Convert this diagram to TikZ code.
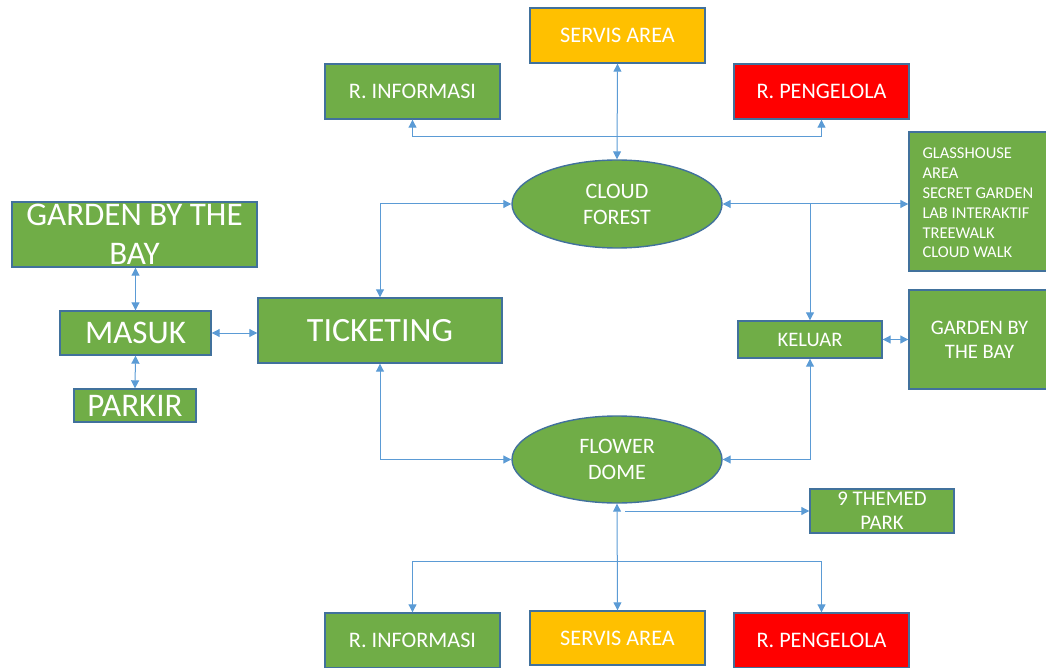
\documentclass[tikz,border=0pt]{standalone}
\usepackage{fontspec}
\setmainfont{Carlito}
\usetikzlibrary{arrows.meta,shapes.geometric}
\definecolor{gfill}{HTML}{70AD47}
\definecolor{bord}{HTML}{41719C}
\definecolor{ofill}{HTML}{FFC000}
\definecolor{rfill}{HTML}{FF0000}
\definecolor{lnk}{HTML}{5B9BD5}
\tikzset{
  box/.style={draw=bord, line width=1.4pt, fill=gfill, text=white, inner sep=0pt, align=center, execute at begin node={\spaceskip=0pt\xspaceskip=0pt\relax}},
  oval/.style={ellipse, draw=bord, line width=1.4pt, fill=gfill, text=white, inner sep=0pt, align=center, font=\fontsize{22}{26}\selectfont},
  link/.style={draw=lnk, line width=1pt, -{Triangle[width=8pt,length=8pt]}},
  dlink/.style={draw=lnk, line width=1pt, {Triangle[width=8pt,length=8pt]}-{Triangle[width=8pt,length=8pt]}},
  plain/.style={draw=lnk, line width=1pt},
  sm/.style={font=\fontsize{22.2}{24}\selectfont},
}
\begin{document}
\begin{tikzpicture}[x=1pt,y=-1pt]
\useasboundingbox (0,0) rectangle (1046,668);
% top
\node[box, fill=ofill, sm, minimum width=175, minimum height=55] (sa1) at (617.5,35.5) {SERVIS AREA};
\node[box, sm, minimum width=175, minimum height=55] (ri1) at (412.5,91.5) {R. INFORMASI};
\node[box, fill=rfill, sm, minimum width=175, minimum height=55] (rp1) at (821.5,91.5) {R. PENGELOLA};
\node[oval, minimum width=210, minimum height=88] (cf) at (617,204) {CLOUD\\FOREST};
% left
\node[box, font=\fontsize{33}{39}\selectfont, minimum width=245, minimum height=65] (gb1) at (134.5,234.5) {GARDEN BY THE\\BAY};
\node[box, font=\fontsize{33}{36}\selectfont, minimum width=151, minimum height=44] (ma) at (135.5,333) {MASUK};
\node[box, font=\fontsize{33}{34}\selectfont, minimum width=122, minimum height=33] (pk) at (135,405.5) {PARKIR};
\node[box, font=\fontsize{34}{38}\selectfont, minimum width=244, minimum height=65] (tk) at (380,330.5) {TICKETING};
% right
\node[box, font=\fontsize{16.5}{19.8}\selectfont, minimum width=141, minimum height=139] (gh) at (979.5,201.5) {\raisebox{-3pt}[\height][\depth]{\makebox[114pt][l]{\begin{tabular}{@{}l@{}}GLASSHOUSE\\AREA\\SECRET GARDEN\\LAB INTERAKTIF\\TREEWALK\\CLOUD WALK\end{tabular}}}};
\node[box, font=\fontsize{20.6}{22}\selectfont, minimum width=144, minimum height=37] (kl) at (810,339.5) {KELUAR};
\node[box, font=\fontsize{20.6}{24}\selectfont, minimum width=141, minimum height=99] (gb2) at (979.5,339.5) {GARDEN BY\\THE BAY};
\node[oval, minimum width=210, minimum height=87] (fd) at (617,459.5) {FLOWER\\DOME};
\node[box, font=\fontsize{20.8}{24}\selectfont, minimum width=144, minimum height=44] (tp) at (882,511) {9 THEMED\\PARK};
% bottom
\node[box, sm, minimum width=175, minimum height=55] (ri2) at (412.5,640.5) {R. INFORMASI};
\node[box, fill=ofill, sm, minimum width=175, minimum height=54] (sa2) at (617.5,638) {SERVIS AREA};
\node[box, fill=rfill, sm, minimum width=175, minimum height=55] (rp2) at (821.5,640.5) {R. PENGELOLA};
% coordinates
\coordinate (t1) at (617,137);
\coordinate (t2) at (617,561);
\coordinate (cfr) at (810,204);
\coordinate (fdb) at (625,511);
% connectors
\draw[dlink] (sa1.south) -- (cf.north);
\draw[plain] (t1) -- (ri1.south |- t1);
\draw[plain] (t1) -- (rp1.south |- t1);
\draw[link] (ri1.south |- t1) -- (ri1.south);
\draw[link] (rp1.south |- t1) -- (rp1.south);
\draw[dlink] (tk.north) |- (cf.west);
\draw[dlink] (tk.south) |- (fd.west);
\draw[dlink] (cf.east) -- (gh.west |- cf.east);
\draw[link] (cfr) -- (kl.north);
\draw[dlink] (kl.south) |- (fd.east);
\draw[dlink] (kl.east) -- (gb2.west |- kl.east);
\draw[dlink] (ma.east) -- (tk.west |- ma.east);
\draw[dlink] (gb1.south -| ma.north) -- (ma.north);
\draw[dlink] (ma.south) -- (pk.north);
\draw[dlink] (fd.south) -- (sa2.north);
\draw[link] (fdb) -- (tp.west);
\draw[plain] (t2) -- (ri2.north |- t2);
\draw[plain] (t2) -- (rp2.north |- t2);
\draw[link] (ri2.north |- t2) -- (ri2.north);
\draw[link] (rp2.north |- t2) -- (rp2.north);
\end{tikzpicture}
\end{document}
